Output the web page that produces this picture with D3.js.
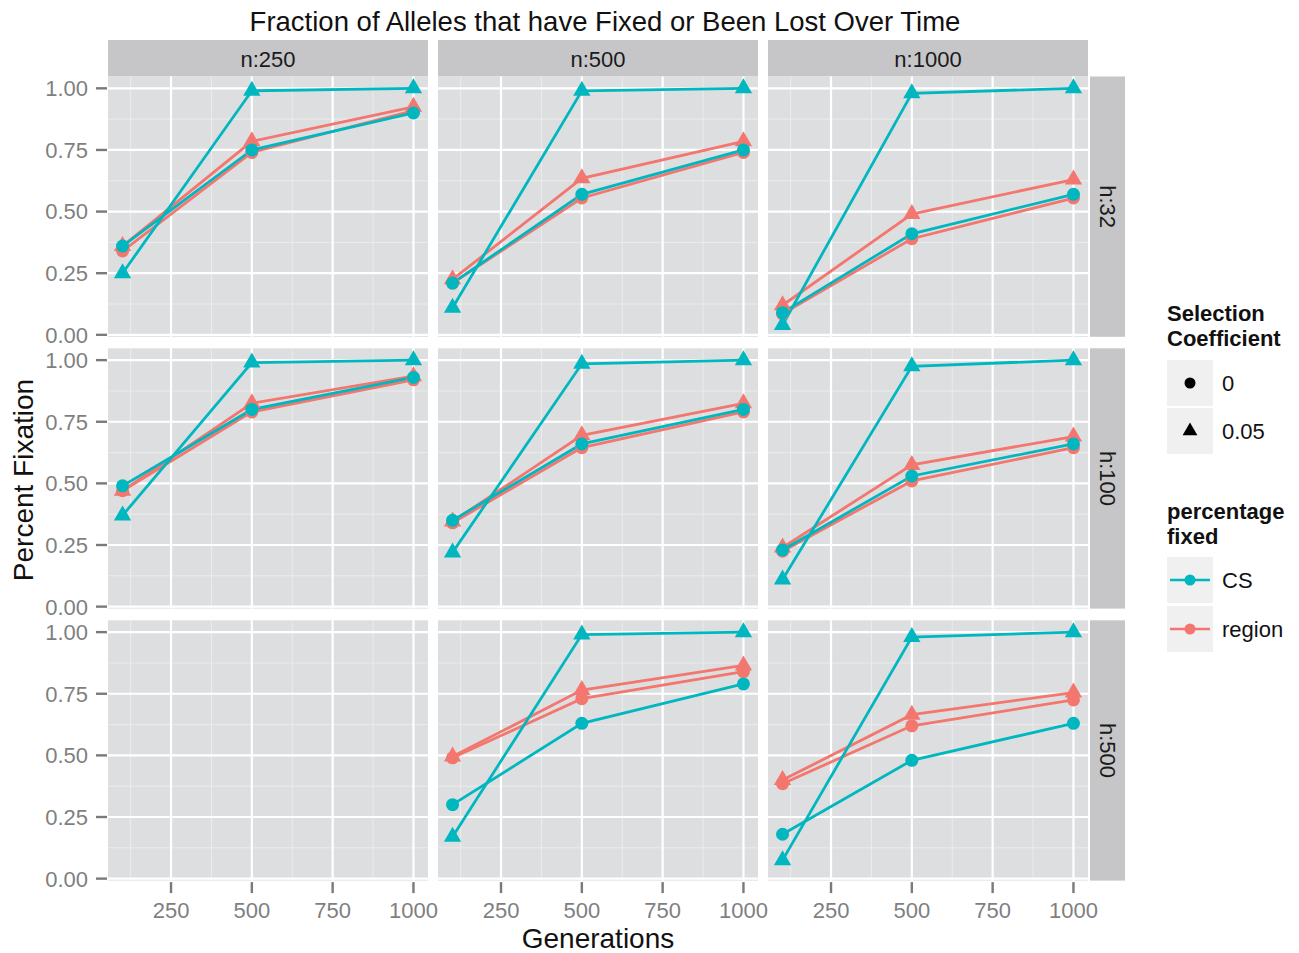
<!DOCTYPE html>
<html><head><meta charset="utf-8">
<script src="https://cdn.jsdelivr.net/npm/d3@7"></script>
<style>body{margin:0;background:#fff} svg{display:block} text{font-family:"Liberation Sans",Arial,Helvetica,sans-serif}</style>
</head><body>
<svg id="c" width="1299" height="953"></svg>
<script>
const generations=[100,500,1000];
const nLabels=["n:250","n:500","n:1000"];
const hLabels=["h:32","h:100","h:500"];
const xTicks=[250,500,750,1000];
const yTicks=[0,0.25,0.5,0.75,1];
const xMinor=[125,375,625,875];
const yMinor=[0.125,0.375,0.625,0.875];
const selLabels=["0","0.05"];
const pctLabels=["CS","region"];
// values[row h][col n] = [gen100, gen500, gen1000]
const cs0=[
 [[0.36,0.75,0.90],[0.21,0.57,0.75],[0.09,0.41,0.57]],
 [[0.49,0.80,0.93],[0.35,0.66,0.80],[0.23,0.53,0.66]],
 [null,[0.30,0.63,0.79],[0.18,0.48,0.63]]
];
const cs05=[
 [[0.25,0.99,1.00],[0.11,0.99,1.00],[0.04,0.98,1.00]],
 [[0.37,0.99,1.00],[0.22,0.985,1.00],[0.11,0.975,1.00]],
 [null,[0.17,0.99,1.00],[0.075,0.98,1.00]]
];
const region0=[
 [[0.34,0.74,0.91],[0.21,0.555,0.74],[0.085,0.39,0.555]],
 [[0.47,0.79,0.92],[0.34,0.645,0.79],[0.225,0.51,0.645]],
 [null,[0.49,0.73,0.84],[0.385,0.62,0.725]]
];
const region05=[
 [[0.36,0.785,0.925],[0.225,0.635,0.785],[0.12,0.49,0.63]],
 [[0.47,0.825,0.935],[0.345,0.695,0.825],[0.24,0.575,0.69]],
 [null,[0.495,0.765,0.865],[0.40,0.665,0.755]]
];

const TEAL="#00B7C0", RED="#F3766F";
const svg=d3.select("#c");
const colX=[108,438,768], panelW=320;
const rowY=[76.5,348.3,620.3], panelH=260.3;

const gExt=d3.extent(generations), gPad=(gExt[1]-gExt[0])*0.05;
const allV=[cs0,cs05,region0,region05].flat(2).filter(d=>d).flat();
const vExt=d3.extent(allV), vPad=(vExt[1]-vExt[0])*0.05;
const x=d3.scaleLinear().domain([gExt[0]-gPad,gExt[1]+gPad]).range([0,panelW]);
const y=d3.scaleLinear().domain([vExt[0]-vPad,vExt[1]+vPad]).range([panelH,0]);

const series=[
 {vals:region0,color:RED,shape:"c"},
 {vals:region05,color:RED,shape:"t"},
 {vals:cs0,color:TEAL,shape:"c"},
 {vals:cs05,color:TEAL,shape:"t"}
];
const tri=d3.symbol().type(d3.symbolTriangle).size(130);
const triLeg=d3.symbol().type(d3.symbolTriangle).size(95);

// title
svg.append("text").attr("x",605).attr("y",31).attr("text-anchor","middle")
 .attr("font-size",27.5).attr("fill","#111").text("Fraction of Alleles that have Fixed or Been Lost Over Time");

// column strips
nLabels.forEach((l,c)=>{
 svg.append("rect").attr("x",colX[c]).attr("y",40).attr("width",panelW).attr("height",rowY[0]-40).attr("fill","#C6C6C8");
 svg.append("text").attr("x",colX[c]+panelW/2).attr("y",66.5).attr("text-anchor","middle").attr("font-size",22).attr("fill","#1a1a1a").text(l);
});
// row strips
hLabels.forEach((l,r)=>{
 svg.append("rect").attr("x",1090).attr("y",rowY[r]).attr("width",35).attr("height",panelH).attr("fill","#C6C6C8");
 svg.append("text").attr("transform",`translate(1099.5,${rowY[r]+panelH/2}) rotate(90)`).attr("text-anchor","middle").attr("font-size",22).attr("fill","#1a1a1a").text(l);
});

for(let r=0;r<3;r++){
 for(let c=0;c<3;c++){
  const g=svg.append("g").attr("transform",`translate(${colX[c]},${rowY[r]})`);
  g.append("rect").attr("width",panelW).attr("height",panelH).attr("fill","#DDDEE0");
  g.selectAll(".mx").data(xMinor).enter().append("line").attr("x1",d=>x(d)).attr("x2",d=>x(d)).attr("y1",0).attr("y2",panelH).attr("stroke","#EBECED").attr("stroke-width",1);
  g.selectAll(".my").data(yMinor).enter().append("line").attr("y1",d=>y(d)).attr("y2",d=>y(d)).attr("x1",0).attr("x2",panelW).attr("stroke","#EBECED").attr("stroke-width",1);
  g.selectAll(".Mx").data(xTicks).enter().append("line").attr("x1",d=>x(d)).attr("x2",d=>x(d)).attr("y1",0).attr("y2",panelH).attr("stroke","#fff").attr("stroke-width",2.2);
  g.selectAll(".My").data(yTicks).enter().append("line").attr("y1",d=>y(d)).attr("y2",d=>y(d)).attr("x1",0).attr("x2",panelW).attr("stroke","#fff").attr("stroke-width",2.2);
  const line=d3.line().x((d,i)=>x(generations[i])).y(d=>y(d));
  series.forEach(s=>{
   const v=s.vals[r][c]; if(!v) return;
   g.append("path").attr("d",line(v)).attr("fill","none").attr("stroke",s.color).attr("stroke-width",2.8);
  });
  series.forEach(s=>{
   const v=s.vals[r][c]; if(!v) return;
   v.forEach((d,i)=>{
    if(s.shape==="c") g.append("circle").attr("cx",x(generations[i])).attr("cy",y(d)).attr("r",6.5).attr("fill",s.color);
    else g.append("path").attr("d",tri).attr("transform",`translate(${x(generations[i])},${y(d)})`).attr("fill",s.color);
   });
  });
 }
 // y axis
 const ya=svg.append("g").attr("transform",`translate(${colX[0]},${rowY[r]})`);
 yTicks.forEach(t=>{
  ya.append("line").attr("x1",-12).attr("x2",-1).attr("y1",y(t)).attr("y2",y(t)).attr("stroke","#7a7a7a").attr("stroke-width",2.4);
  ya.append("text").attr("x",-20).attr("y",y(t)).attr("dy","0.36em").attr("text-anchor","end").attr("font-size",22).attr("fill","#7f7f7f").text(d3.format(".2f")(t));
 });
}
// x axes
colX.forEach(cx=>{
 const xa=svg.append("g").attr("transform",`translate(${cx},${rowY[2]+panelH})`);
 xTicks.forEach(t=>{
  xa.append("line").attr("x1",x(t)).attr("x2",x(t)).attr("y1",1.5).attr("y2",12.5).attr("stroke","#7a7a7a").attr("stroke-width",2.4);
  xa.append("text").attr("x",x(t)).attr("y",37.5).attr("text-anchor","middle").attr("font-size",22).attr("fill","#7f7f7f").text(t);
 });
});
// axis titles
svg.append("text").attr("x",598).attr("y",948).attr("text-anchor","middle").attr("font-size",28).attr("fill","#111").text("Generations");
svg.append("text").attr("transform","translate(33,480) rotate(-90)").attr("text-anchor","middle").attr("font-size",28).attr("fill","#111").text("Percent Fixation");

// legends
const L=svg.append("g");
L.append("text").attr("x",1167).attr("y",321).attr("font-size",22).attr("font-weight","bold").attr("fill","#111").text("Selection");
L.append("text").attr("x",1167).attr("y",346).attr("font-size",22).attr("font-weight","bold").attr("fill","#111").text("Coefficient");
selLabels.forEach((l,i)=>{
 const ky=360+i*48;
 L.append("rect").attr("x",1167).attr("y",ky).attr("width",46).attr("height",46).attr("fill","#F0F0F1");
 if(i===0) L.append("circle").attr("cx",1190).attr("cy",ky+23).attr("r",5.5).attr("fill","#000");
 else L.append("path").attr("d",triLeg).attr("transform",`translate(1190,${ky+23})`).attr("fill","#000");
 L.append("text").attr("x",1222).attr("y",ky+23).attr("dy","0.36em").attr("font-size",22).attr("fill","#111").text(l);
});
L.append("text").attr("x",1167).attr("y",519).attr("font-size",22).attr("font-weight","bold").attr("fill","#111").text("percentage");
L.append("text").attr("x",1167).attr("y",544).attr("font-size",22).attr("font-weight","bold").attr("fill","#111").text("fixed");
pctLabels.forEach((l,i)=>{
 const ky=557+i*49, col=i===0?TEAL:RED;
 L.append("rect").attr("x",1167).attr("y",ky).attr("width",46).attr("height",46).attr("fill","#F0F0F1");
 L.append("line").attr("x1",1170).attr("x2",1210).attr("y1",ky+23).attr("y2",ky+23).attr("stroke",col).attr("stroke-width",2.6);
 L.append("circle").attr("cx",1190).attr("cy",ky+23).attr("r",5.5).attr("fill",col);
 L.append("text").attr("x",1222).attr("y",ky+23).attr("dy","0.36em").attr("font-size",22).attr("fill","#111").text(l);
});
</script>
</body></html>
